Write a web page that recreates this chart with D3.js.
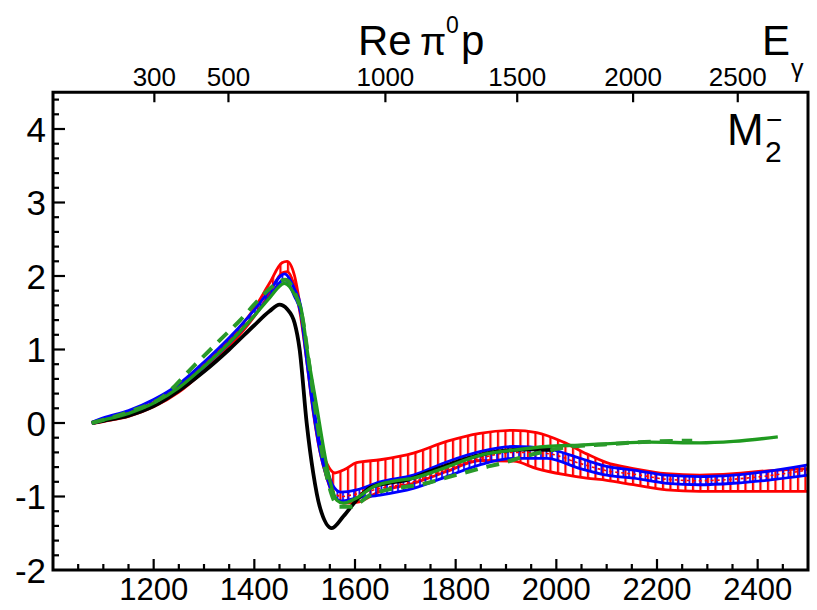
<!DOCTYPE html>
<html><head><meta charset="utf-8">
<script src="https://cdn.jsdelivr.net/npm/d3@7"></script>
<style>body{margin:0;background:#fff} text{font-family:"Liberation Sans", Arial, Helvetica, sans-serif;fill:#000}</style>
</head><body><svg id="c" width="817" height="610"></svg>
<script>
// ---------- data ----------
const xTickLabels = [1200, 1400, 1600, 1800, 2000, 2200, 2400];
const yTickLabels = [-2, -1, 0, 1, 2, 3, 4];
const egTickLabels = [300, 500, 1000, 1500, 2000, 2500];

const redW  = [1077,1100,1150,1200,1250,1300,1350,1400,1430,1455,1465,1480,1492,1504,1517,1530,1544,1560,1580,1603,1650,1716,1782,1848,1915,1961,2014,2060,2100,2153,2219,2285,2352,2418,2500];
const redHi = [0.01,0.05,0.14,0.28,0.49,0.79,1.13,1.56,1.90,2.18,2.20,2.00,1.55,0.95,0.25,-0.28,-0.55,-0.68,-0.63,-0.54,-0.50,-0.41,-0.25,-0.14,-0.10,-0.13,-0.26,-0.42,-0.54,-0.62,-0.69,-0.71,-0.69,-0.65,-0.62];
const redLo = [-0.01,0.02,0.09,0.22,0.42,0.71,1.04,1.45,1.76,2.04,2.06,1.85,1.45,0.85,0.15,-0.38,-0.75,-1.02,-1.09,-1.08,-0.93,-0.82,-0.66,-0.51,-0.52,-0.62,-0.70,-0.75,-0.78,-0.84,-0.91,-0.93,-0.93,-0.93,-0.93];

const blueW  = [1077,1100,1150,1200,1250,1300,1350,1400,1430,1460,1480,1492,1504,1517,1530,1544,1556,1572,1603,1650,1716,1782,1848,1915,1981,2047,2100,2153,2219,2285,2352,2418,2500];
const blueHi = [0.01,0.07,0.17,0.32,0.53,0.83,1.16,1.54,1.80,2.03,1.82,1.60,0.95,0.27,-0.27,-0.62,-0.85,-0.94,-0.91,-0.80,-0.71,-0.53,-0.39,-0.32,-0.35,-0.48,-0.59,-0.64,-0.71,-0.73,-0.71,-0.66,-0.57];
const blueLo = [-0.01,0.03,0.11,0.26,0.46,0.76,1.08,1.46,1.72,1.95,1.72,1.50,0.85,0.17,-0.37,-0.74,-0.97,-1.06,-1.02,-0.98,-0.89,-0.73,-0.57,-0.48,-0.48,-0.62,-0.71,-0.75,-0.82,-0.84,-0.82,-0.78,-0.71];

const blackW = [1077,1100,1150,1200,1250,1300,1350,1400,1430,1450,1465,1480,1490,1504,1517,1530,1554,1577,1603,1630,1663,1700,1749,1815,1881,1948,1995];
const blackV = [0,0.03,0.10,0.23,0.44,0.70,1.00,1.33,1.52,1.61,1.55,1.36,1.00,0,-0.68,-1.14,-1.43,-1.27,-1.05,-0.88,-0.82,-0.78,-0.66,-0.50,-0.39,-0.36,-0.37];

const greenW = [1077,1100,1150,1200,1250,1300,1350,1400,1430,1460,1480,1493,1507,1524,1537,1550,1564,1577,1603,1636,1670,1716,1782,1848,1915,1981,2047,2107,2186,2285,2352,2440];
const greenV = [0,0.04,0.13,0.27,0.48,0.77,1.09,1.46,1.70,1.90,1.75,1.55,0.90,0.22,-0.32,-0.78,-1.05,-1.09,-1.02,-0.87,-0.80,-0.75,-0.60,-0.44,-0.37,-0.32,-0.30,-0.28,-0.26,-0.27,-0.25,-0.19];

const gDashW = [1077,1150,1219,1279,1332,1372,1405,1440,1462,1480,1495,1510,1525,1540,1555,1568,1590,1636,1663,1729,1789,1848,1901,1934,1970,2020,2100,2200,2270];
const gDashV = [0,0.15,0.36,0.77,1.13,1.40,1.65,1.88,1.95,1.78,1.45,0.75,0.0,-0.60,-1.00,-1.14,-1.14,-0.96,-0.91,-0.84,-0.73,-0.62,-0.53,-0.46,-0.40,-0.33,-0.29,-0.25,-0.24];

// ---------- layout ----------
const L = 53, R = 808, T = 92.25, B = 570;
const svg = d3.select("#c");
const x = d3.scaleLinear().domain([1000, 2500]).range([L, R]);
const y = d3.scaleLinear().domain([-2, 4.5]).range([B, T]);
const mp = 938.272;
const egToW = e => Math.sqrt(mp * mp + 2 * mp * e);

// hatch patterns
const defs = svg.append("defs");
defs.append("clipPath").attr("id", "clip").append("rect")
  .attr("x", L).attr("y", T).attr("width", R - L).attr("height", B - T);
const pr = defs.append("pattern").attr("id", "hatchRed").attr("patternUnits", "userSpaceOnUse")
  .attr("width", 7.5).attr("height", 10);
pr.append("line").attr("x1", 3).attr("x2", 3).attr("y1", 0).attr("y2", 10)
  .attr("stroke", "#f00").attr("stroke-width", 2.2);
const pb = defs.append("pattern").attr("id", "hatchBlue").attr("patternUnits", "userSpaceOnUse")
  .attr("width", 5.5).attr("height", 10);
pb.append("line").attr("x1", 2).attr("x2", 2).attr("y1", 0).attr("y2", 10)
  .attr("stroke", "#00f").attr("stroke-width", 1.8);

const g = svg.append("g").attr("clip-path", "url(#clip)");
const curve = d3.curveMonotoneX;

function band(W, hi, lo, pat, col) {
  const d = W.map((w, i) => ({ w, hi: hi[i], lo: lo[i] }));
  g.append("path").datum(d)
    .attr("d", d3.area().curve(curve).x(p => x(p.w)).y0(p => y(p.lo)).y1(p => y(p.hi)))
    .attr("fill", `url(#${pat})`);
  ["hi", "lo"].forEach(k => {
    g.append("path").datum(d)
      .attr("d", d3.line().curve(curve).x(p => x(p.w)).y(p => y(p[k])))
      .attr("fill", "none").attr("stroke", col).attr("stroke-width", 2.8);
  });
  return d;
}
function line(W, V, col, width, dash) {
  const d = W.map((w, i) => ({ w, v: V[i] }));
  const p = g.append("path").datum(d)
    .attr("d", d3.line().curve(curve).x(p => x(p.w)).y(p => y(p.v)))
    .attr("fill", "none").attr("stroke", col).attr("stroke-width", width)
    .attr("stroke-linecap", "butt").attr("stroke-linejoin", "round");
  if (dash) p.attr("stroke-dasharray", dash);
}

band(redW, redHi, redLo, "hatchRed", "#f00");
const bd = band(blueW, blueHi, blueLo, "hatchBlue", "#00f");
// red dashed centre inside blue band
g.append("path").datum(bd.filter(p => p.w >= 1540))
  .attr("d", d3.line().curve(curve).x(p => x(p.w)).y(p => y((p.hi + p.lo) / 2)))
  .attr("fill", "none").attr("stroke", "#f00").attr("stroke-width", 1.6).attr("stroke-dasharray", "3,3");

line(blackW, blackV, "#000", 3.8);
line(greenW, greenV, "#1f9a1f", 3.3);
line(gDashW, gDashV, "#2a9a2a", 4, "13,9");

// ---------- axes ----------
const ax = svg.append("g").attr("stroke", "#000");
// bottom ticks (inward)
d3.range(1050, 2500, 50).forEach(v => {
  const major = v % 200 === 0;
  ax.append("line").attr("x1", x(v)).attr("x2", x(v)).attr("y1", B).attr("y2", B - (major ? 11 : 6))
    .attr("stroke-width", 2.2);
});
// left ticks (inward)
d3.range(-18, 45, 2).forEach(k => {
  const v = k / 10;
  const major = k % 10 === 0;
  ax.append("line").attr("x1", L).attr("x2", L + (major ? 12 : 6)).attr("y1", y(v)).attr("y2", y(v))
    .attr("stroke-width", 2.2);
});
// top E_gamma ticks
egTickLabels.forEach(e => {
  const px = x(egToW(e));
  ax.append("line").attr("x1", px).attr("x2", px).attr("y1", T).attr("y2", T + 10).attr("stroke-width", 2.2);
});
// frame
svg.append("rect").attr("x", L).attr("y", T).attr("width", R - L).attr("height", B - T)
  .attr("fill", "none").attr("stroke", "#000").attr("stroke-width", 3);

// labels
const lab = svg.append("g");
xTickLabels.forEach(v => lab.append("text").attr("x", x(v)).attr("y", 600)
  .attr("text-anchor", "middle").attr("font-size", 31).text(v));
yTickLabels.forEach(v => lab.append("text").attr("x", 46).attr("y", y(v) + 12.5)
  .attr("text-anchor", "end").attr("font-size", 35).text(v));
egTickLabels.forEach(e => lab.append("text").attr("x", x(egToW(e))).attr("y", 86)
  .attr("text-anchor", "middle").attr("font-size", 26).text(e));

// title
lab.append("text").attr("x", 358).attr("y", 55).attr("font-size", 42).text("Re");
lab.append("text").attr("x", 420).attr("y", 55).attr("font-size", 38).text("π");
lab.append("text").attr("x", 446).attr("y", 33).attr("font-size", 23).text("0");
lab.append("text").attr("x", 461).attr("y", 55).attr("font-size", 42).text("p");
// E_gamma
lab.append("text").attr("x", 762).attr("y", 55).attr("font-size", 42).text("E");
lab.append("text").attr("x", 791).attr("y", 77).attr("font-size", 25).text("γ");
// M2-
lab.append("text").attr("x", 727).attr("y", 145).attr("font-size", 44).text("M");
lab.append("text").attr("x", 765).attr("y", 162).attr("font-size", 30).text("2");
lab.append("text").attr("x", 766).attr("y", 129).attr("font-size", 28).text("−");
</script></body></html>
